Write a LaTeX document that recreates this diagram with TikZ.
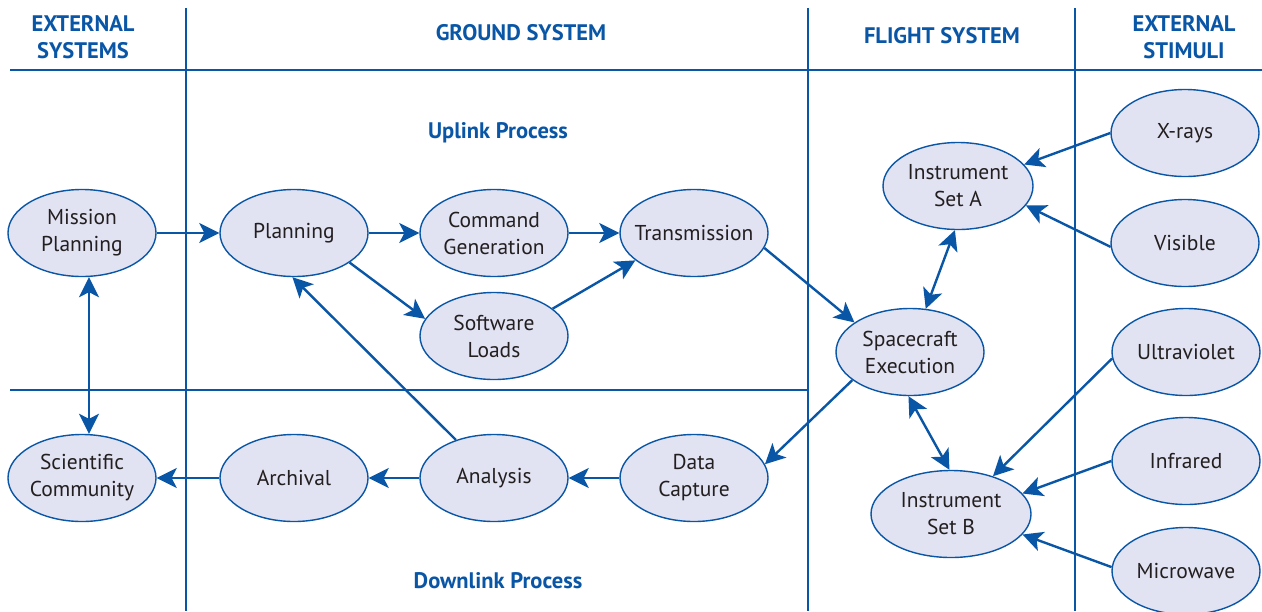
\documentclass[tikz,border=0pt]{standalone}
\usepackage{fontspec}
\setmainfont{PT Sans}
\usetikzlibrary{shapes.geometric,arrows.meta}
\definecolor{nasablue}{HTML}{0A56A6}
\definecolor{ellfill}{HTML}{E1E2F2}
\definecolor{txt}{HTML}{231F20}
\tikzset{
  ell/.style={ellipse, draw=nasablue, line width=1.4pt, fill=ellfill, inner xsep=-25pt, inner ysep=-10pt,
    minimum width=148pt, minimum height=87pt, align=center, text=txt,
    font=\fontsize{21.5}{27}\selectfont},
  wideell/.style={ell, minimum width=160pt},
  rule/.style={draw=nasablue, line width=2.2pt},
  conn/.style={draw=nasablue, line width=2.4pt, -{Stealth[length=20pt,width=20pt,inset=5pt]}},
  bconn/.style={draw=nasablue, line width=2.4pt, {Stealth[length=20pt,width=20pt,inset=5pt]}-{Stealth[length=20pt,width=20pt,inset=5pt]}},
  head/.style={text=nasablue, font=\bfseries\fontsize{22.5}{27}\selectfont, align=center, inner sep=0pt},
}
\begin{document}
\begin{tikzpicture}[x=1pt,y=-1pt]
\useasboundingbox (0,0) rectangle (1262,611);
% grid lines
\coordinate (v1t) at (186,8);  \coordinate (v1b) at (186,611);
\coordinate (v2t) at (808,8);  \coordinate (v2b) at (808,611);
\coordinate (v3t) at (1075,8); \coordinate (v3b) at (1075,611);
\coordinate (h1l) at (10,70);  \coordinate (h1r) at (1262,70);
\coordinate (h2l) at (10,390); \coordinate (h2r) at (808,390);
\draw[rule] (v1t) -- (v1b);
\draw[rule] (v2t) -- (v2b);
\draw[rule] (v3t) -- (v3b);
\draw[rule] (h1l) -- (h1r);
\draw[rule] (h2l) -- (h2r);
% headers
\node[head] (hes) at (83,37) {EXTERNAL\\SYSTEMS};
\node[head] (hgs) at (521,33) {GROUND SYSTEM};
\node[head] (hfs) at (942,36) {FLIGHT SYSTEM};
\node[head] (hst) at (1184,37) {EXTERNAL\\STIMULI};
\node[head] (up) at (498,133) {Uplink Process};
\node[head] (down) at (498,581) {Downlink Process};
% nodes
\node[ell] (mp) at (82,233) {Mission\\Planning};
\node[ell] (pl) at (294,233) {Planning};
\node[ell] (cg) at (494,233) {Command\\Generation};
\node[ell] (tr) at (694,233) {Transmission};
\node[ell] (sw) at (494,336) {Software\\Loads};
\node[ell] (sci) at (82,478) {Scientific\\Community};
\node[ell] (ar) at (294,478) {Archival};
\node[ell] (an) at (494,478) {Analysis};
\node[ell] (dc) at (694,478) {Data\\Capture};
\node[ell] (sc) at (910,352) {Spacecraft\\Execution};
\node[wideell, minimum width=150pt] (ia) at (958,186) {Instrument\\Set A};
\node[wideell] (ib) at (951,514) {Instrument\\Set B};
\node[ell] (xr) at (1185,133) {X-rays};
\node[ell] (vis) at (1185,243) {Visible};
\node[ell] (uv) at (1186,352) {Ultraviolet};
\node[ell] (ir) at (1186,461) {Infrared};
\node[ell] (mw) at (1186,571) {Microwave};
% connectors
\draw[conn] (mp.east) -- (pl.west);
\draw[conn] (pl.east) -- (cg.west);
\draw[conn] (pl.-28) -- (sw.166);
\draw[conn] (cg.east) -- (tr.west);
\draw[conn] (sw.25) -- (tr.205);
\draw[conn] (tr.-12) -- (sc.152);
\draw[bconn] (sc.70) -- (ia.-94);
\draw[conn] (xr.west) -- (ia.18);
\draw[conn] (vis.183) -- (ia.-16);
\draw[bconn] (sc.-92) -- (ib.92);
\draw[conn] (uv.185) -- (ib.42);
\draw[conn] (ir.west) -- (ib.16);
\draw[conn] (mw.177) -- (ib.-16);
\draw[conn] (sc.206) -- (dc.11);
\draw[conn] (dc.west) -- (an.east);
\draw[conn] (an.west) -- (ar.east);
\draw[conn] (ar.west) -- (sci.east);
\draw[conn] (an.135) -- (pl.-92);
\draw[bconn] ([xshift=7pt]mp.south) -- ([xshift=7pt]sci.north);
\end{tikzpicture}
\end{document}
